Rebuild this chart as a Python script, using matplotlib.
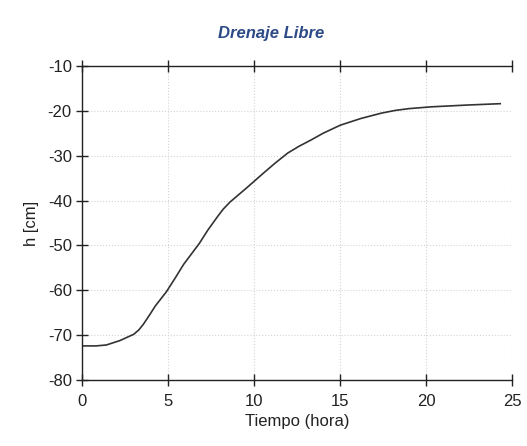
import numpy as np
import matplotlib
matplotlib.use('Agg')
import matplotlib.pyplot as plt

plt.rcParams['font.family'] = ['Liberation Sans', 'DejaVu Sans']
plt.rcParams['axes.unicode_minus'] = False

# curve: time (hours) and pressure head (cm)
tiempo = [0.0, 0.8, 1.4, 2.2, 3.0, 3.3, 3.55, 3.9, 4.25, 4.9, 5.4, 5.9, 6.8,
          7.3, 7.9, 8.2, 8.6, 9.0, 9.55, 10.5, 11.2, 11.95, 12.6, 13.3, 14.0,
          15.0, 16.2, 17.4, 18.2, 19.0, 20.3, 22.4, 24.3]
h_cm = [-72.4, -72.4, -72.2, -71.2, -69.8, -68.8, -67.6, -65.6, -63.5, -60.3,
        -57.3, -54.2, -49.6, -46.6, -43.4, -41.9, -40.3, -39.0, -37.2, -34.0,
        -31.7, -29.4, -27.9, -26.5, -25.0, -23.2, -21.7, -20.5, -19.9, -19.5,
        -19.1, -18.7, -18.4]

x_ticks = [0, 5, 10, 15, 20, 25]
y_ticks = [-80, -70, -60, -50, -40, -30, -20, -10]

fig = plt.figure(figsize=(5.27, 4.46), dpi=100)
ax = fig.add_axes([0.156, 0.148, 0.816, 0.704])

ax.plot(tiempo, h_cm, color='#333333', linewidth=1.2)

ax.set_xlim(0, 25)
ax.set_ylim(-80, -10)
ax.set_xticks(x_ticks)
ax.set_yticks(y_ticks)
ax.grid(True, color='#d4d4d4', linestyle=':', linewidth=0.8)

ax.spines['right'].set_visible(False)
for s in ['left', 'bottom', 'top']:
    ax.spines[s].set_color('#222222')
    ax.spines[s].set_linewidth(1.0)

ax.tick_params(axis='both', direction='inout', length=8, width=1,
               color='#222222', labelsize=12, labelcolor='#222222')
ax.tick_params(axis='x', top=True, pad=6)

ax.set_xlabel('Tiempo (hora)', fontsize=12, color='#222222', labelpad=4)
ax.set_ylabel('h [cm]', fontsize=12, color='#222222', labelpad=6)
fig.text(0.515, 0.925, 'Drenaje Libre', ha='center', va='center',
         fontsize=12, fontweight='bold', fontstyle='italic', color='#2b4a86')

fig.savefig('out.png', dpi=100)
